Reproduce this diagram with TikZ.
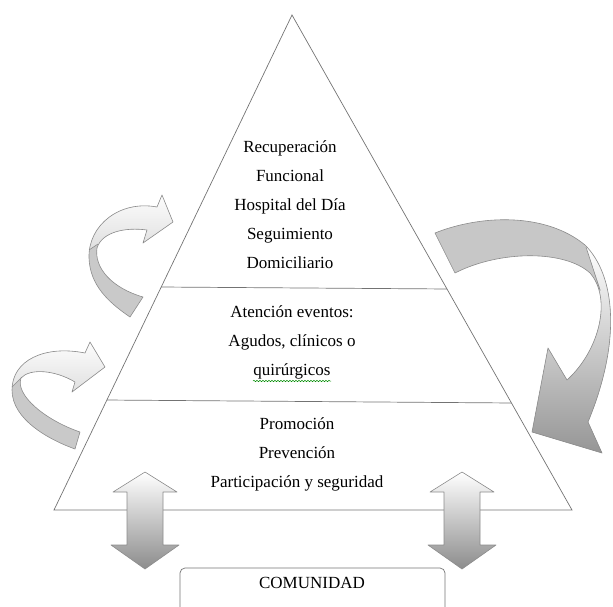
\documentclass[tikz,border=0pt]{standalone}
\usepackage{fontspec}
\setmainfont{Liberation Serif}
\usetikzlibrary{calc,decorations.pathmorphing}

\begin{document}
\begin{tikzpicture}[
    x=1pt, y=-1pt,
    edge/.style={draw=black!55, line width=0.7pt},
    lbl/.style={align=center, inner sep=0pt, font=\fontsize{17}{29}\selectfont},
    rim/.style={draw=black!45, line width=0.6pt, line join=round},
    back/.style={fill=black!21},
    front/.style={top color=white, bottom color=black!13}
]
\useasboundingbox (0,0) rectangle (613,606);
\clip (0,0) rectangle (613,606);

% piramide
\coordinate (apex) at (292,15);
\coordinate (bl) at (54,510);
\coordinate (br) at (572,510);
\draw[edge] (bl) -- (apex) -- (br) -- cycle;
\draw[edge] ($(bl)!0.4505!(apex)$) -- ($(br)!0.4465!(apex)$);
\draw[edge] ($(bl)!0.2222!(apex)$) -- ($(br)!0.2162!(apex)$);

\node[lbl] (recup) at (290,205) {Recuperación\\Funcional\\Hospital del Día\\Seguimiento\\Domiciliario};
\node[lbl] (eventos) at (292,342) {Atención eventos:\\Agudos, clínicos o\\quirúrgicos};
\node[lbl] (promo) at (297,454) {Promoción\\Prevención\\Participación y seguridad};
\draw[green!55!black, line width=0.5pt, decorate,
    decoration={snake, amplitude=0.7pt, segment length=3pt}] (253,381) -- (331,381);

% flechas curvas izquierda
\def\ulband{(130,317) .. controls (108,302) and (90,285) .. (89,258)
    .. controls (88,225) and (120,200) .. (157,207) -- (162,195) -- (173,222)
    -- (143,243) -- (147,230) .. controls (125,227) and (102,232) .. (97,248)
    .. controls (94,268) and (112,288) .. (143,297) -- cycle}
\fill[back] \ulband;
\begin{scope}
    \clip \ulband;
    \clip (60,180) -- (180,180) -- (180,262) -- (120,255) -- (98,244) -- (89,250) -- (60,252) -- cycle;
    \shade[front] (80,190) rectangle (176,252);
\end{scope}
\draw[rim] \ulband;
\draw[rim] (89,250) -- (98,244);

\def\llband{(75,449) .. controls (50,440) and (12,420) .. (12,390)
    .. controls (12,360) and (45,345) .. (85,353) -- (90,342) -- (105,367)
    -- (72,392) -- (75,382) .. controls (55,370) and (30,368) .. (21,378)
    .. controls (15,395) and (45,420) .. (80,432) -- cycle}
\fill[back] \llband;
\begin{scope}
    \clip \llband;
    \clip (0,330) -- (110,330) -- (110,405) -- (45,395) -- (22,377) -- (12,387) -- (0,389) -- cycle;
    \shade[front] (5,338) rectangle (108,396);
\end{scope}
\draw[rim] \llband;
\draw[rim] (12,387) -- (22,377);

% flecha grande derecha
\def\rband{(435,233) .. controls (480,215) and (545,212) .. (585,245)
    .. controls (615,275) and (622,340) .. (588,422) -- (602,453) -- (532,432)
    -- (548,348) -- (567,380) .. controls (600,350) and (612,298) .. (590,273)
    .. controls (565,250) and (500,250) .. (455,273) -- cycle}
\fill[fill=black!22] \rband;
\begin{scope}
    \clip \rband;
    \clip (586,247) -- (601,291) -- (540,300) -- (520,460) -- (620,460) -- (620,190) -- (584,190) -- cycle;
    \shade[top color=white, bottom color=black!42] (520,245) rectangle (620,456);
\end{scope}
\draw[rim] \rband;
\draw[rim] (586,247) -- (600,290);

% flechas dobles
\foreach \cx in {145,462}
    \shade[rim, top color=white, bottom color=black!45]
        (\cx,472) -- ++(32,20) -- ++(-14,0) -- ++(0,53) -- ++(16,0) -- (\cx,569)
        -- ++(-34,-24) -- ++(16,0) -- ++(0,-53) -- ++(-14,0) -- cycle;

% comunidad
\draw[edge, rounded corners=5pt] (180,568) rectangle (445,625);
\node[lbl] (com) at (312,583) {COMUNIDAD};
\end{tikzpicture}
\end{document}
